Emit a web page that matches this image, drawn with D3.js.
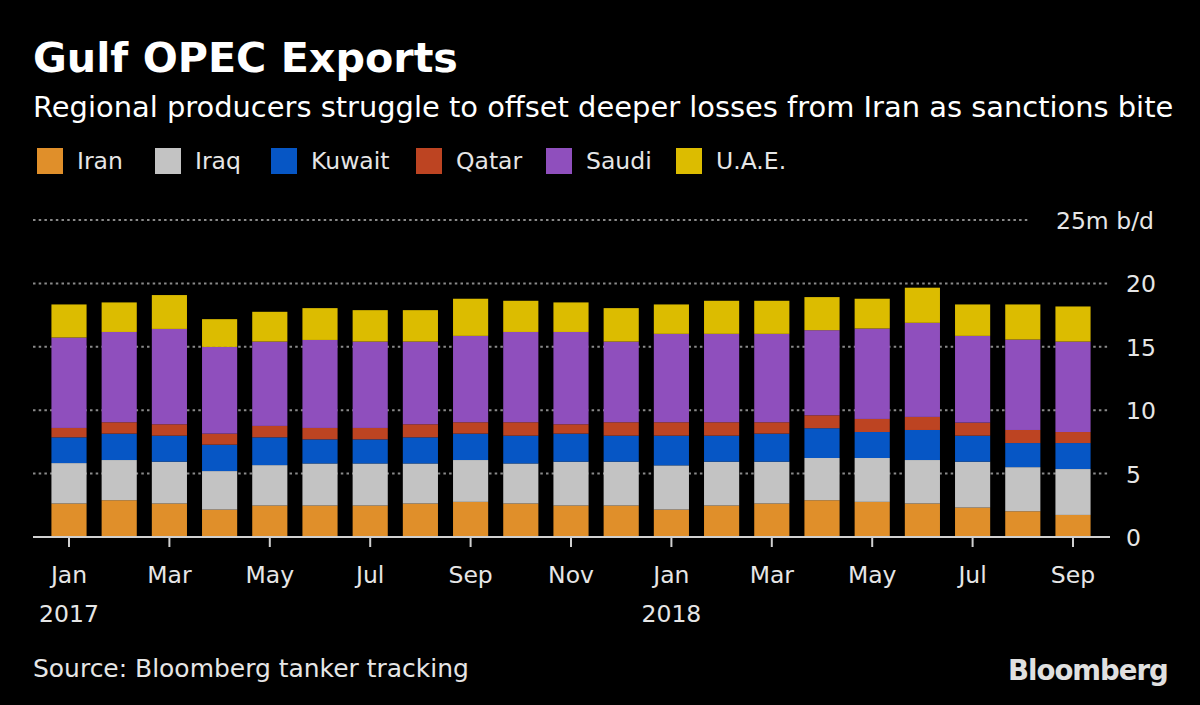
<!DOCTYPE html>
<html>
<head>
<meta charset="utf-8">
<script src="https://cdn.jsdelivr.net/npm/d3@7"></script>
<style>
  html, body { margin: 0; padding: 0; background: #000; }
  svg { display: block; }
  text { font-family: "DejaVu Sans", "Noto Sans", sans-serif; }
</style>
</head>
<body>
<svg id="chart" width="1200" height="705"></svg>
<script>
// ---- data ----
const months = ["2017-01","2017-02","2017-03","2017-04","2017-05","2017-06","2017-07","2017-08","2017-09","2017-10","2017-11","2017-12",
                "2018-01","2018-02","2018-03","2018-04","2018-05","2018-06","2018-07","2018-08","2018-09"];
const seriesNames = ["Iran","Iraq","Kuwait","Qatar","Saudi","U.A.E."];
const iran   = [2.64,2.90,2.64,2.16,2.48,2.48,2.48,2.64,2.77,2.64,2.48,2.48,2.16,2.48,2.64,2.90,2.77,2.64,2.32,2.03,1.74];
const iraq   = [3.19,3.17,3.30,3.04,3.19,3.32,3.32,3.16,3.30,3.16,3.46,3.46,3.49,3.46,3.30,3.33,3.46,3.43,3.62,3.48,3.62];
const kuwait = [2.03,2.08,2.05,2.08,2.19,1.90,1.90,2.06,2.08,2.19,2.21,2.05,2.34,2.05,2.21,2.35,2.05,2.37,2.05,1.90,2.05];
const qatar  = [0.74,0.90,0.90,0.87,0.90,0.90,0.90,1.03,0.90,1.06,0.74,1.06,1.06,1.06,0.90,1.02,1.03,1.03,1.03,1.03,0.87];
const saudi  = [7.13,7.12,7.52,6.84,6.65,6.94,6.81,6.52,6.81,7.12,7.28,6.36,6.97,6.97,6.97,6.71,7.13,7.42,6.84,7.13,7.13];
const uae    = [2.61,2.33,2.67,2.19,2.35,2.51,2.48,2.48,2.93,2.46,2.33,2.64,2.32,2.61,2.61,2.61,2.35,2.77,2.48,2.77,2.77];
const colors = ["#e08f2a","#c3c3c3","#0656c5","#bd4422","#8f4fbd","#dcbc00"];
const yTicks = [0,5,10,15,20,25];
const xTickMonths = ["2017-01","2017-03","2017-05","2017-07","2017-09","2017-11","2018-01","2018-03","2018-05","2018-07","2018-09"];
const monthNames = ["Jan","Feb","Mar","Apr","May","Jun","Jul","Aug","Sep","Oct","Nov","Dec"];
const yearLabels = {"2017-01":"2017","2018-01":"2018"};

// ---- build table ----
const allSeries = [iran, iraq, kuwait, qatar, saudi, uae];
const table = months.map((m, i) => {
  const row = {month: m};
  seriesNames.forEach((s, k) => row[s] = allSeries[k][i]);
  return row;
});
const stacked = d3.stack().keys(seriesNames)(table);

const svg = d3.select("#chart");
svg.append("rect").attr("width",1200).attr("height",705).attr("fill","#000");

const x = d3.scaleBand().domain(months).range([43.9, 1098.1]).paddingInner(0.3).paddingOuter(0.15);
const y = d3.scaleLinear().domain([0,25]).range([537, 220]);

// fit a text element to a target width by adjusting font size
function fitWidth(sel, w) {
  const node = sel.node();
  const cur = node.getComputedTextLength();
  const fs = parseFloat(sel.attr("font-size"));
  sel.attr("font-size", (fs * w / cur).toFixed(2));
  return sel;
}

// title
fitWidth(svg.append("text").attr("x",33).attr("y",72).attr("fill","#fff")
  .attr("font-size",40).attr("font-weight",700).text("Gulf OPEC Exports"), 425);
fitWidth(svg.append("text").attr("x",33).attr("y",117).attr("fill","#fff")
  .attr("font-size",27).text("Regional producers struggle to offset deeper losses from Iran as sanctions bite"), 1141);

// legend
const legendX = [37,155,271,416,546,676];
const lg = svg.append("g");
seriesNames.forEach((s,k) => {
  lg.append("rect").attr("x",legendX[k]).attr("y",148).attr("width",26).attr("height",26).attr("fill",colors[k]);
  lg.append("text").attr("x",legendX[k]+40).attr("y",169).attr("fill","#e6e6e6").attr("font-size",23.5).text(s);
});

// gridlines
const grid = svg.append("g");
yTicks.filter(v => v > 0).forEach(v => {
  grid.append("line").attr("x1",33).attr("x2", v === 25 ? 1030 : 1109)
    .attr("y1",y(v)).attr("y2",y(v))
    .attr("stroke","#8a8a8a").attr("stroke-width",2).attr("stroke-dasharray","2.5,3.2");
});

// bars
svg.append("g").selectAll("g").data(stacked).join("g")
  .attr("fill",(d,k) => colors[k])
  .selectAll("rect").data(d => d).join("rect")
  .attr("x", d => x(d.data.month))
  .attr("width", x.bandwidth())
  .attr("y", d => y(d[1]))
  .attr("height", d => y(d[0]) - y(d[1]));

// baseline
svg.append("line").attr("x1",33).attr("x2",1110).attr("y1",y(0)).attr("y2",y(0))
  .attr("stroke","#d0d0d0").attr("stroke-width",2);

// x axis
const xAxis = d3.axisBottom(x).tickValues(xTickMonths).tickSize(10).tickPadding(16)
  .tickFormat(m => monthNames[+m.slice(5)-1]);
const gx = svg.append("g").attr("transform",`translate(0,${y(0)})`).call(xAxis);
gx.select(".domain").remove();
gx.selectAll(".tick line").attr("stroke","#d0d0d0").attr("stroke-width",2);
gx.selectAll(".tick text").attr("fill","#e6e6e6").attr("font-size",23.5)
  .attr("font-family","DejaVu Sans, Noto Sans, sans-serif").attr("dy",0).attr("y",46);
gx.selectAll(".tick").filter(m => yearLabels[m]).append("text")
  .attr("fill","#e6e6e6").attr("font-size",23.5).attr("text-anchor","middle")
  .attr("font-family","DejaVu Sans, Noto Sans, sans-serif")
  .attr("y",85).text(m => yearLabels[m]);

// y labels
const yl = svg.append("g");
yTicks.forEach(v => {
  yl.append("text")
    .attr("x", v === 25 ? 1154 : 1126)
    .attr("text-anchor", v === 25 ? "end" : "start")
    .attr("y", y(v) + 9)
    .attr("fill","#e6e6e6").attr("font-size",23.5)
    .text(v === 25 ? "25m b/d" : v);
});

// footer
fitWidth(svg.append("text").attr("x",33).attr("y",677).attr("fill","#e6e6e6").attr("font-size",24)
  .text("Source: Bloomberg tanker tracking"), 436);
fitWidth(svg.append("text").attr("x",1008).attr("y",680).attr("fill","#e0e0e0")
  .attr("font-size",28).attr("font-weight",700).attr("letter-spacing",-1)
  .attr("font-family","Liberation Sans, Arial, sans-serif").text("Bloomberg"), 160);
</script>
</body>
</html>
